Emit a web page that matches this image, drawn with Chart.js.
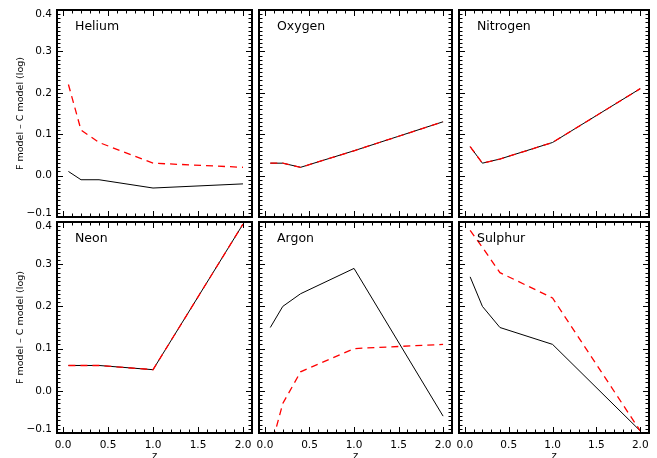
<!DOCTYPE html>
<html><head><meta charset="utf-8">
<script src="https://cdn.jsdelivr.net/npm/chart.js@4/dist/chart.umd.min.js"></script>
<style>
html,body{margin:0;padding:0;background:#fff;overflow:hidden;width:657px;height:458px}
#wrap{position:relative;width:657px;height:458px;overflow:hidden}
canvas{position:absolute}
</style></head><body><div id="wrap"></div>
<script>
// ---- data ----
const zValues = [0.06, 0.2, 0.4, 1.0, 2.0];
const panelNames = ['Helium', 'Oxygen', 'Nitrogen', 'Neon', 'Argon', 'Sulphur'];
const heliumSolid    = [0.01, -0.01, -0.01, -0.03, -0.02];
const heliumDashed   = [0.22, 0.11, 0.08, 0.03, 0.02];
const oxygenSolid    = [0.03, 0.03, 0.02, 0.06, 0.13];
const oxygenDashed   = [0.03, 0.03, 0.02, 0.06, 0.13];
const nitrogenSolid  = [0.07, 0.03, 0.04, 0.08, 0.21];
const nitrogenDashed = [0.07, 0.03, 0.04, 0.08, 0.21];
const neonSolid      = [0.06, 0.06, 0.06, 0.05, 0.395];
const neonDashed     = [0.06, 0.06, 0.06, 0.05, 0.395];
const argonSolid     = [0.15, 0.20, 0.23, 0.29, -0.06];
const argonDashed    = [-0.14, -0.03, 0.045, 0.10, 0.11];
const sulphurSolid   = [0.27, 0.20, 0.15, 0.11, -0.095];
const sulphurDashed  = [0.38, 0.34, 0.28, 0.22, -0.095];
const xTickValues = [0, 0.5, 1.0, 1.5, 2.0];
const xTickLabels = ['0.0', '0.5', '1.0', '1.5', '2.0'];
const yTickValues = [-0.1, 0.0, 0.1, 0.2, 0.3, 0.4];
const yTickLabels = ['\u22120.1', '0.0', '0.1', '0.2', '0.3', '0.4'];
const xRange = [-0.067, 2.1];
const yRange = [-0.1, 0.4];
const xMinorStep = 0.1, yMinorStep = 0.01;
const yTitle = 'F model \u2013 C model (log)';
const xTitle = 'z';

const solidSeries  = [heliumSolid, oxygenSolid, nitrogenSolid, neonSolid, argonSolid, sulphurSolid];
const dashedSeries = [heliumDashed, oxygenDashed, nitrogenDashed, neonDashed, argonDashed, sulphurDashed];

// ---- layout ----
const colL = [57, 259, 459], colR = [252, 452, 649];
const rowT = [10, 222], rowB = [217, 433];
const FONT = 'DejaVu Sans';

const framePlugin = {
  id: 'frame',
  afterDatasetsDraw(chart) {
    const {ctx, chartArea: a, scales: {x, y}} = chart;
    const name = chart.options.plugins.frame.name;
    ctx.save();
    ctx.strokeStyle = '#000';
    ctx.lineWidth = 1;
    ctx.beginPath();
    const isMajor = (v, arr) => arr.some(t => Math.abs(t - v) < 1e-6);
    for (let k = Math.ceil(x.min / xMinorStep - 1e-9); k * xMinorStep <= x.max + 1e-9; k++) {
      const v = k * xMinorStep;
      const px = Math.round(x.getPixelForValue(v)) + 0.5;
      const len = isMajor(v, xTickValues) ? 6 : 3.5;
      ctx.moveTo(px, a.bottom); ctx.lineTo(px, a.bottom - len);
      ctx.moveTo(px, a.top); ctx.lineTo(px, a.top + len);
    }
    for (let k = Math.round(y.min / yMinorStep); k * yMinorStep <= y.max + 1e-9; k++) {
      const v = k * yMinorStep;
      const py = Math.round(y.getPixelForValue(v)) + 0.5;
      const len = isMajor(v, yTickValues) ? 6 : 3.5;
      ctx.moveTo(a.left, py); ctx.lineTo(a.left + len, py);
      ctx.moveTo(a.right, py); ctx.lineTo(a.right - len, py);
    }
    ctx.stroke();
    ctx.lineWidth = 2;
    ctx.strokeRect(a.left, a.top, a.right - a.left, a.bottom - a.top);
    ctx.fillStyle = '#000';
    ctx.font = '12.5px "' + FONT + '"';
    ctx.textBaseline = 'middle';
    ctx.textAlign = 'left';
    ctx.fillText(name, a.left + 18, a.top + 17);
    ctx.restore();
  }
};

function makePanel(i) {
  const row = Math.floor(i / 3), col = i % 3;
  const L = colL[col], R = colR[col], T = rowT[row], B = rowB[row];
  const cl = col === 0 ? 0 : L - 4, cr = R + 4;
  const ct = row === 0 ? 0 : T - 10, cb = row === 1 ? 464 : B + 4;
  const cv = document.createElement('canvas');
  cv.width = cr - cl; cv.height = cb - ct;
  cv.style.left = cl + 'px'; cv.style.top = ct + 'px';
  cv.style.width = (cr - cl) + 'px'; cv.style.height = (cb - ct) + 'px';
  document.getElementById('wrap').appendChild(cv);
  const toPts = arr => zValues.map((z, k) => ({x: z, y: arr[k]}));
  new Chart(cv, {
    type: 'line',
    data: {
      datasets: [
        {label: 'dashed', data: toPts(dashedSeries[i]), borderColor: '#ff0000', borderWidth: 1.3,
         borderDash: [7, 5], pointRadius: 0, tension: 0, fill: false},
        {label: 'solid', data: toPts(solidSeries[i]), borderColor: '#000000', borderWidth: 1,
         pointRadius: 0, tension: 0, fill: false}
      ]
    },
    options: {
      responsive: false, animation: false, devicePixelRatio: 1,
      layout: {padding: {left: 0, right: cr - R, top: T - ct, bottom: 0}},
      plugins: {legend: {display: false}, tooltip: {enabled: false}, frame: {name: panelNames[i]}},
      scales: {
        x: {
          type: 'linear', min: xRange[0], max: xRange[1],
          afterBuildTicks: s => { s.ticks = xTickValues.map(v => ({value: v})); },
          afterFit: s => { s.height = cb - B; s.paddingLeft = 0; s.paddingRight = 0; },
          grid: {display: false, drawTicks: false}, border: {display: false},
          ticks: {display: row === 1, padding: 6, maxRotation: 0, autoSkip: false, color: '#000',
                  font: {family: FONT, size: 10.5}, callback: (v, idx) => xTickLabels[idx]},
          title: {display: row === 1, text: xTitle, color: '#000', font: {family: FONT, size: 10},
                  padding: {top: 0, bottom: 2}}
        },
        y: {
          type: 'linear', min: yRange[0], max: yRange[1],
          afterBuildTicks: s => { s.ticks = yTickValues.map(v => ({value: v})); },
          afterFit: s => { s.width = L - cl; s.paddingTop = 0; s.paddingBottom = 0; },
          grid: {display: false, drawTicks: false}, border: {display: false},
          ticks: {display: col === 0, padding: 5, autoSkip: false, color: '#000',
                  font: {family: FONT, size: 10.5, lineHeight: '8px'},
                  callback: (v, idx) => {
                    const lab = yTickLabels[idx];
                    if (idx === 0) return [lab, ''];
                    if (idx === yTickValues.length - 1) return ['', lab];
                    return lab;
                  }},
          title: {display: col === 0, text: yTitle, color: '#000', font: {family: FONT, size: 9.5},
                  padding: {top: 15, bottom: 0}}
        }
      }
    },
    plugins: [framePlugin]
  });
}
for (let i = 0; i < 6; i++) makePanel(i);
</script>
</body></html>
